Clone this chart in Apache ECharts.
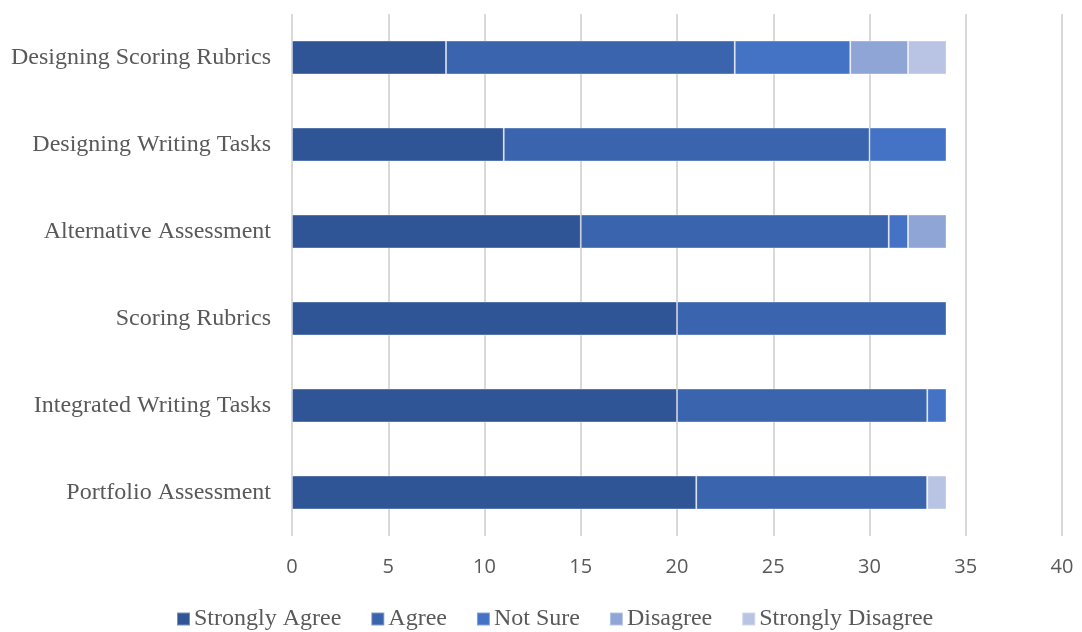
<!DOCTYPE html>
<html><head><meta charset="utf-8">
<script src="https://cdn.jsdelivr.net/npm/echarts@6/dist/echarts.min.js"></script>
<style>html,body{margin:0;padding:0;background:#fff}#c{width:1082px;height:632px}</style>
</head><body><div id="c"></div>
<script>
const categories = ['Portfolio Assessment','Integrated Writing Tasks','Scoring Rubrics','Alternative Assessment','Designing Writing Tasks','Designing Scoring Rubrics'];
const stronglyAgree = [21, 20, 20, 15, 11, 8];
const agree = [12, 13, 14, 16, 19, 15];
const notSure = [0, 1, 0, 1, 4, 6];
const disagree = [0, 0, 0, 2, 0, 3];
const stronglyDisagree = [1, 0, 0, 0, 0, 2];
const seriesNames = ['Strongly Agree','Agree','Not Sure','Disagree','Strongly Disagree'];
const colors = ['#2F5597','#3A64AD','#4472C4','#8FA5D6','#B9C3E3'];
const values = [stronglyAgree, agree, notSure, disagree, stronglyDisagree];

const chart = echarts.init(document.getElementById('c'));
chart.setOption({
  animation: false,
  color: colors,
  grid: {left: 292, right: 20, top: 14, bottom: 96, containLabel: false},
  legend: {
    top: 606, left: 176, itemWidth: 13, itemHeight: 13, itemGap: 29, padding: 0,
    icon: 'rect',
    textStyle: {fontFamily: 'Liberation Serif', fontSize: 24, lineHeight: 26, color: '#595959', padding: [0,0,0,-1]},
    data: seriesNames
  },
  xAxis: {
    type: 'value', min: 0, max: 40, interval: 5,
    axisLine: {show: false}, axisTick: {show: false},
    splitLine: {show: true, lineStyle: {color: '#d9d9d9', width: 2}},
    axisLabel: {fontFamily: 'Open Sans', fontSize: 20, color: '#595959', margin: 21}
  },
  yAxis: {
    type: 'category', data: categories,
    axisLine: {show: false}, axisTick: {show: false},
    axisLabel: {fontFamily: 'Liberation Serif', fontSize: 24, color: '#595959', margin: 21}
  },
  series: values.map((v, i) => ({
    name: seriesNames[i], type: 'bar', stack: 'total', data: v,
    barCategoryGap: '61%',
    itemStyle: {color: colors[i], borderColor: 'rgba(255,255,255,0.35)', borderWidth: 1}
  }))
});
</script></body></html>
